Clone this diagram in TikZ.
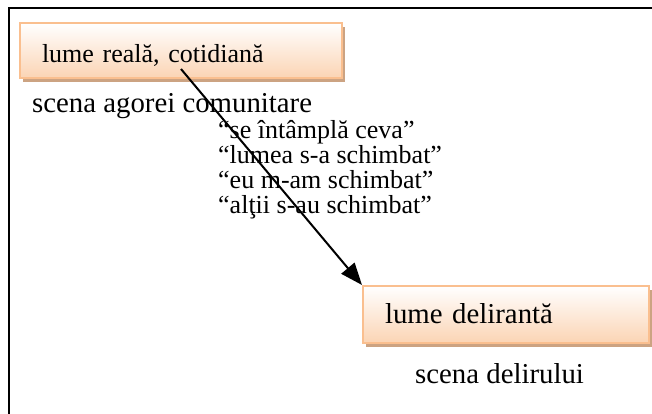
\documentclass[tikz,border=0pt]{standalone}
\usepackage{fontspec}
\setmainfont{Liberation Serif}
\usetikzlibrary{arrows.meta,shadows}
\definecolor{peachline}{RGB}{250,191,143}
\definecolor{peachfill}{RGB}{251,212,180}
\definecolor{shadowtan}{RGB}{204,163,130}
\begin{document}
\begin{tikzpicture}[x=1pt,y=-1pt,
    every node/.style={font=\fontsize{26}{28}\selectfont,inner sep=0pt},
    big/.style={font=\fontsize{28.8}{30}\selectfont},
    worldbox/.style={draw=peachline,line width=2pt,top color=white,bottom color=peachfill,
      align=left,inner xsep=22pt,inner ysep=0pt,
      drop shadow={shadow xshift=3pt,shadow yshift=-4pt,fill=shadowtan,opacity=1}},
    caption/.style={anchor=base west}]
  \useasboundingbox (0,0) rectangle (652,413);
  \clip (0,0) rectangle (652,413);
  \draw[line width=2pt] (9,7.5) rectangle (700,460);
  \node[worldbox,anchor=base west,text width=278pt,text height=39pt,text depth=16pt] (reala) at (19,62) {lume reală, cotidiană};
  \node[caption,big] (agora) at (32,112) {scena agorei comunitare};
  \node[caption] (q1) at (218,138) {“se întâmplă ceva”};
  \node[caption] (q2) at (218,163) {“lumea s-a schimbat”};
  \node[caption] (q3) at (218,188) {“eu m-am schimbat”};
  \node[caption] (q4) at (218,213) {“alţii s-au schimbat”};
  \node[worldbox,big,anchor=base west,text width=242pt,text height=37pt,text depth=20pt] (delir) at (362,323) {lume delirantă};
  \node[caption,big] (scena) at (415,383) {scena delirului};
  \coordinate (start) at ([yshift=10pt]reala.south);
  \draw[line width=2pt,-{Triangle[length=22pt,width=17pt]}] (start) -- (delir.north west);
\end{tikzpicture}
\end{document}
